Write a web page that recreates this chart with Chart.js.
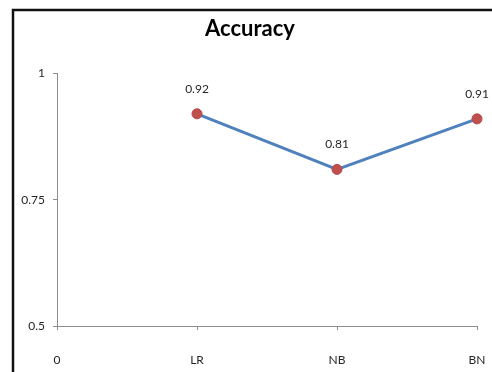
<!DOCTYPE html>
<html>
<head>
<meta charset="utf-8">
<script src="https://cdn.jsdelivr.net/npm/chart.js@4/dist/chart.umd.min.js"></script>
<style>
  html, body { margin: 0; padding: 0; background: #fff; }
  #wrap { position: relative; width: 492px; height: 372px; }
</style>
</head>
<body>
<div id="wrap"><canvas id="c" width="492" height="372"></canvas></div>
<script>
// Models and their accuracy
const categories = ['LR', 'NB', 'BN'];
const accuracy = [0.92, 0.81, 0.91];
// x-axis tick labels: origin plus one per model
const xTickLabels = ['0', ...categories];
// y-axis ticks
const yTicks = [0.5, 0.75, 1];

const FONT = 'Lato, "Open Sans", sans-serif';
const TEXT = '#262626';
const AXIS = '#8c8c8c';

// white page with a dark frame along the top and left
const framePlugin = {
  id: 'frame',
  beforeDraw(chart) {
    const ctx = chart.ctx;
    ctx.save();
    ctx.fillStyle = '#fff';
    ctx.fillRect(0, 0, chart.width, chart.height);
    ctx.strokeStyle = '#111';
    ctx.lineWidth = 2.5;
    ctx.beginPath();
    ctx.moveTo(13, chart.height + 5);
    ctx.lineTo(13, 10);
    ctx.lineTo(chart.width + 5, 10);
    ctx.stroke();
    ctx.restore();
  }
};

// value labels above each point
const valueLabels = {
  id: 'valueLabels',
  afterDatasetsDraw(chart) {
    const ctx = chart.ctx;
    const meta = chart.getDatasetMeta(0);
    ctx.save();
    ctx.font = '12px ' + FONT;
    ctx.fillStyle = TEXT;
    ctx.textAlign = 'center';
    ctx.textBaseline = 'middle';
    meta.data.forEach((pt, i) => {
      const v = chart.data.datasets[0].data[i];
      if (v == null) return;
      ctx.fillText(String(v), pt.x, pt.y - 25);
    });
    ctx.restore();
  }
};

new Chart(document.getElementById('c'), {
  type: 'line',
  data: {
    labels: xTickLabels,
    datasets: [{
      label: 'Accuracy',
      data: [null, ...accuracy],
      borderColor: '#4f81bd',
      borderWidth: 3,
      pointRadius: 5,
      pointHoverRadius: 5,
      pointBackgroundColor: '#c0504d',
      pointBorderColor: '#b5484a',
      pointBorderWidth: 1,
      tension: 0,
      spanGaps: false
    }]
  },
  options: {
    responsive: false,
    animation: false,
    devicePixelRatio: 1,
    // the negative right padding widens the title box so the title sits centred over the page
    layout: { padding: { left: 0, right: -8, top: 0, bottom: 0 } },
    plugins: {
      legend: { display: false },
      tooltip: { enabled: false },
      title: {
        display: true,
        text: 'Accuracy',
        color: '#000',
        font: { family: FONT, size: 22, weight: 'bold', lineHeight: 1.2 },
        padding: { top: 16, bottom: 31 }
      }
    },
    scales: {
      x: {
        type: 'category',
        offset: false,
        afterFit(s) { s.height = 46; s.paddingLeft = 0; s.paddingRight = 15; },
        grid: { drawOnChartArea: false, drawTicks: true, tickLength: 4, color: AXIS },
        border: { color: AXIS, width: 1 },
        ticks: {
          color: TEXT,
          font: { family: FONT, size: 12 },
          padding: 23,
          maxRotation: 0,
          autoSkip: false
        }
      },
      y: {
        min: 0.5,
        max: 1,
        afterFit(s) { s.width = 57; },
        afterBuildTicks(s) { s.ticks = yTicks.map(v => ({ value: v })); },
        grid: { drawOnChartArea: false, drawTicks: true, tickLength: 4, color: AXIS },
        border: { color: AXIS, width: 1 },
        ticks: {
          color: TEXT,
          font: { family: FONT, size: 12 },
          padding: 8,
          callback: v => String(v)
        }
      }
    }
  },
  plugins: [framePlugin, valueLabels]
});
</script>
</body>
</html>
